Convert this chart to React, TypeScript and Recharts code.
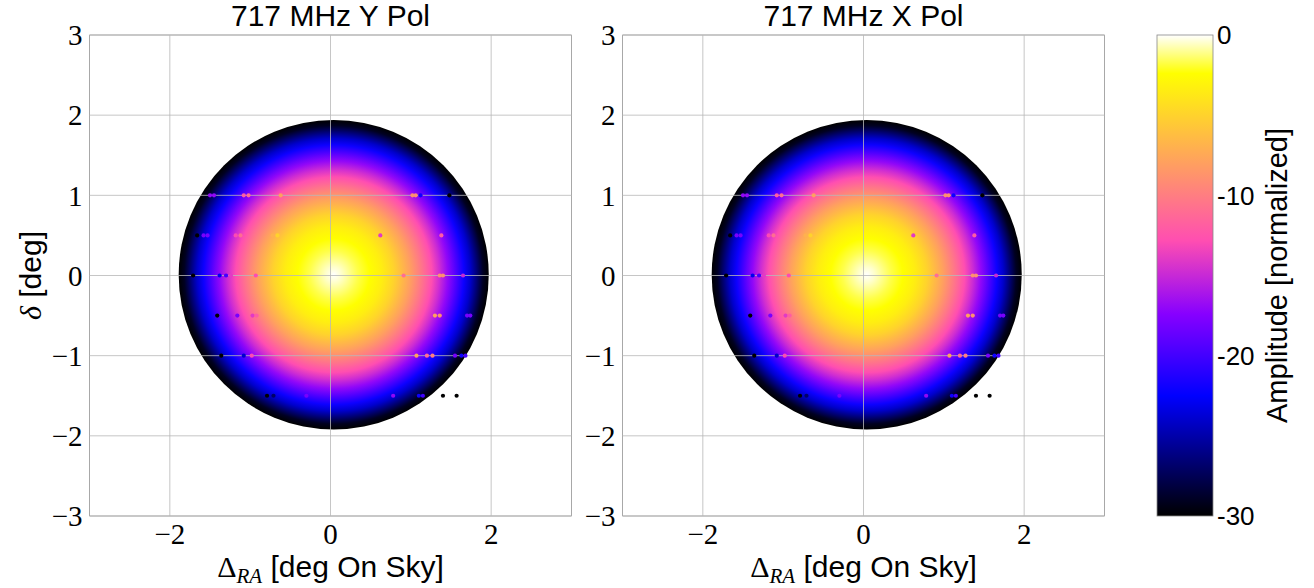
import { ScatterChart, Scatter, XAxis, YAxis, ReferenceArea, ReferenceLine, BarChart, Bar } from 'recharts'

// axes
const xTicks = [-2, 0, 2]
const yTicks = [-3, -2, -1, 0, 1, 2, 3]
const cbTicks = [0, -10, -20, -30]

const panelTitles = ['717 MHz Y Pol', '717 MHz X Pol']

// beam disc (deg)
const discCenterX = 0.04
const discCenterY = 0.01
const discRadius = 1.93

// radial amplitude profile (deg -> dB)
const profileRadius = [0, 0.1, 0.2, 0.3, 0.45, 0.6, 0.75, 0.95, 1.1, 1.22, 1.32, 1.42, 1.52, 1.62, 1.7, 1.78, 1.86, 1.93]
const profileAmp = [0, -0.5, -1.1, -1.7, -2.4, -3.4, -5.0, -8.0, -10.6, -12.8, -14.8, -17.0, -19.5, -22, -24, -26.5, -29, -30]

// stray samples along the scan rows
const dotX = [
  -1.5, -1.45, -1.08, -1.02, -0.62, 1.02, 1.06, 1.12, 1.48,
  -1.66, -1.58, -1.53, -1.18, -1.12, -0.72, -0.66, 0.62, 1.38,
  -1.71, -1.38, -1.3, -1.24, -0.93, 0.91, 1.36, 1.4, 1.65,
  -1.41, -1.16, -0.97, -0.92, 1.3, 1.36, 1.7, 1.74,
  -1.36, -1.08, -0.98, 1.07, 1.2, 1.27, 1.55, 1.63, 1.68,
  -0.79, -0.71, -0.3, 0.78, 1.1, 1.15, 1.4, 1.57,
]
const dotY = [
  1, 1, 1, 1, 1, 1, 1, 1, 1,
  0.5, 0.5, 0.5, 0.5, 0.5, 0.5, 0.5, 0.5, 0.5,
  0, 0, 0, 0, 0, 0, 0, 0, 0,
  -0.5, -0.5, -0.5, -0.5, -0.5, -0.5, -0.5, -0.5,
  -1, -1, -1, -1, -1, -1, -1, -1, -1,
  -1.5, -1.5, -1.5, -1.5, -1.5, -1.5, -1.5, -1.5,
]
const dotAmp = [
  -17, -17, -12, -11, -8, -9, -9, -22, -30,
  -30, -18, -18, -13, -11, -7, -5, -14, -12,
  -30, -23, -20, -14, -13, -11, -9, -9, -15,
  -30, -18, -14, -12, -8, -9, -18, -18,
  -30, -24, -13, -8, -11, -10, -18, -22, -20,
  -30, -27, -18, -17, -22, -20, -30, -30,
]

const dots = dotX.map((x, i) => ({ x, y: dotY[i], amp: dotAmp[i] }))
const cbData = [{ name: 'amp', value: -30 }]

const SANS = '"Liberation Sans", Arial, sans-serif'
const SERIF = '"Liberation Serif", "Times New Roman", serif'

// matplotlib gnuplot2 colormap
function gnuplot2(t: number) {
  const c = (v: number) => Math.round(Math.max(0, Math.min(1, v)) * 255)
  const r = t / 0.32 - 0.78125
  const g = 2 * t - 0.84
  let b
  if (t < 0.25) b = 4 * t
  else if (t < 0.42) b = 1
  else if (t < 0.92) b = -2 * t + 1.84
  else b = t / 0.08 - 11.5
  return `rgb(${c(r)},${c(g)},${c(b)})`
}
const ampColor = (a: number) => gnuplot2((a + 30) / 30)

const minus = (v: number) => (v < 0 ? `\u2212${Math.abs(v)}` : `${v}`)

function DiscShape(props: any) {
  const { x, y, width, height, gradId } = props
  return (
    <g>
      <defs>
        <radialGradient id={gradId} cx="50%" cy="50%" r="50%">
          {profileRadius.map((r, i) => (
            <stop key={i} offset={r / discRadius} stopColor={ampColor(profileAmp[i])} />
          ))}
        </radialGradient>
      </defs>
      <ellipse
        cx={x + width / 2}
        cy={y + height / 2}
        rx={Math.abs(width) / 2}
        ry={Math.abs(height) / 2}
        fill={`url(#${gradId})`}
      />
    </g>
  )
}

function DotShape(props: any) {
  const { cx, cy, payload } = props
  return <circle cx={cx} cy={cy} r={2.1} fill={ampColor(payload.amp)} />
}

function XTitle(props: any) {
  const vb = props.viewBox
  return (
    <text x={vb.x + vb.width / 2} y={vb.y + 61} textAnchor="middle" fill="#000" fontSize={30}>
      <tspan fontFamily={SERIF}>Δ</tspan>
      <tspan fontFamily={SERIF} fontStyle="italic" fontSize={21} dy={6}>RA</tspan>
      <tspan fontFamily={SANS} dy={-6}> [deg On Sky]</tspan>
    </text>
  )
}

function YTitle(props: any) {
  const vb = props.viewBox
  const cx = vb.x
  const cy = vb.y + vb.height / 2
  return (
    <text
      x={cx}
      y={cy}
      transform={`rotate(-90, ${cx}, ${cy})`}
      textAnchor="middle"
      dominantBaseline="central"
      fill="#000"
      fontSize={30}
    >
      <tspan fontFamily={SERIF} fontStyle="italic">δ</tspan>
      <tspan fontFamily={SANS}> [deg]</tspan>
    </text>
  )
}

function CbTitle(props: any) {
  const vb = props.viewBox
  const cx = vb.x + 64
  const cy = vb.y + vb.height / 2
  return (
    <text
      x={cx}
      y={cy}
      transform={`rotate(-90, ${cx}, ${cy})`}
      textAnchor="middle"
      dominantBaseline="central"
      fill="#000"
      fontSize={29}
      fontFamily={SANS}
    >
      Amplitude [normalized]
    </text>
  )
}

function CbBar(props: any) {
  const { x, y, width, height } = props
  const top = Math.min(y, y + height)
  const h = Math.abs(height)
  const stops = [0, 0.1, 0.2, 0.25, 0.3, 0.35, 0.42, 0.5, 0.5725, 0.65, 0.75, 0.85, 0.92, 0.96, 1]
  return (
    <g>
      <defs>
        <linearGradient id="cbGrad" x1="0" y1="1" x2="0" y2="0">
          {stops.map((t) => (
            <stop key={t} offset={t} stopColor={gnuplot2(t)} />
          ))}
        </linearGradient>
      </defs>
      <rect x={x} y={top} width={width} height={h} fill="url(#cbGrad)" stroke="#888" strokeWidth={0.8} />
    </g>
  )
}

const gridColor = '#b8b8b8'

function Panel({ title, left, gradId, showYTitle }: { title: string; left: number; gradId: string; showYTitle: boolean }) {
  return (
    <div style={{ position: 'absolute', left, top: 0, width: 600, height: 588 }}>
      <div
        style={{
          position: 'absolute',
          left: 89.5,
          width: 482,
          top: -2,
          lineHeight: '36px',
          textAlign: 'center',
          fontFamily: SANS,
          fontSize: 30,
          color: '#000',
        }}
      >
        {title}
      </div>
      <ScatterChart width={600} height={588} margin={{ top: 35, right: 28.5, bottom: 12, left: 29.5 }}>
        <XAxis
          type="number"
          dataKey="x"
          domain={[-3, 3]}
          ticks={xTicks}
          allowDataOverflow
          height={60}
          axisLine={false}
          tickLine={false}
          tickSize={4}
          tickMargin={3}
          tickFormatter={minus}
          tick={{ fontFamily: SERIF, fontSize: 29, fill: '#000' }}
          label={(p: any) => <XTitle {...p} />}
        />
        <YAxis
          type="number"
          dataKey="y"
          domain={[-3, 3]}
          ticks={yTicks}
          allowDataOverflow
          width={60}
          axisLine={false}
          tickLine={false}
          tickSize={4}
          tickMargin={3}
          tickFormatter={minus}
          tick={{ fontFamily: SERIF, fontSize: 29, fill: '#000' }}
          label={showYTitle ? (p: any) => <YTitle {...p} /> : undefined}
        />
        <ReferenceArea
          x1={discCenterX - discRadius}
          x2={discCenterX + discRadius}
          y1={discCenterY - discRadius}
          y2={discCenterY + discRadius}
          ifOverflow="visible"
          shape={(p: any) => <DiscShape {...p} gradId={gradId} />}
        />
        <Scatter data={dots} isAnimationActive={false} shape={DotShape} />
        {xTicks.map((t) => (
          <ReferenceLine key={`gx${t}`} x={t} stroke={gridColor} strokeWidth={1} strokeOpacity={0.8} />
        ))}
        {yTicks.map((t) => (
          <ReferenceLine key={`gy${t}`} y={t} stroke={gridColor} strokeWidth={1} strokeOpacity={0.8} />
        ))}
        <ReferenceArea x1={-3} x2={3} y1={-3} y2={3} fill="none" fillOpacity={0} stroke="#a8a8a8" strokeWidth={1} strokeOpacity={1} />
      </ScatterChart>
    </div>
  )
}

export default function App() {
  return (
    <div style={{ position: 'absolute', left: 0, top: 0, width: 1314, height: 588, background: '#fff' }}>
      <Panel title={panelTitles[0]} left={0} gradId="discGradY" showYTitle />
      <Panel title={panelTitles[1]} left={533} gradId="discGradX" showYTitle={false} />
      <div style={{ position: 'absolute', left: 1140, top: 0, width: 174, height: 588 }}>
        <BarChart width={174} height={588} data={cbData} margin={{ top: 35, right: 0, bottom: 72, left: 17 }} barCategoryGap={0}>
          <XAxis dataKey="name" hide />
          <YAxis
            orientation="right"
            type="number"
            domain={[-30, 0]}
            ticks={cbTicks}
            width={101}
            axisLine={false}
            tickLine={false}
            tickSize={2}
            tickMargin={2}
            tick={{ fontFamily: SANS, fontSize: 26, fill: '#000' }}
            label={(p: any) => <CbTitle {...p} />}
          />
          <Bar dataKey="value" isAnimationActive={false} shape={CbBar} />
        </BarChart>
      </div>
    </div>
  )
}
